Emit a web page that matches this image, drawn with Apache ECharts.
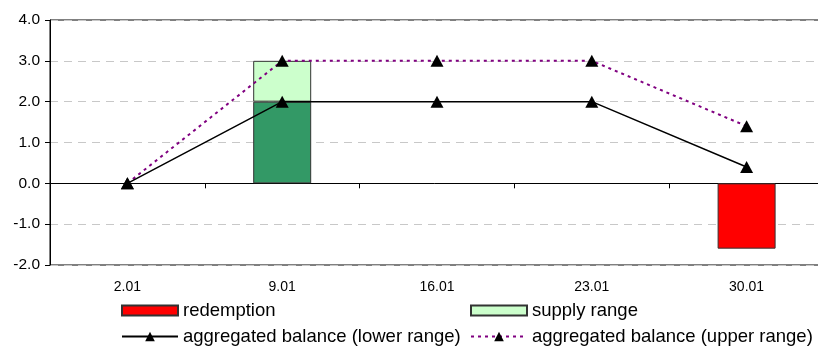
<!DOCTYPE html>
<html>
<head>
<meta charset="utf-8">
<script src="https://cdn.jsdelivr.net/npm/echarts@6/dist/echarts.min.js"></script>
<style>
  html, body { margin: 0; padding: 0; background: #fff; }
  #chart { width: 818px; height: 347px; }
</style>
</head>
<body>
<div id="chart"></div>
<script>
// Weekly dates
const categories = ['2.01', '9.01', '16.01', '23.01', '30.01'];

// Bars (stacked)
const redemption = [null, null, null, null, -1.6];
const supplyBase = [null, 2.0, null, null, null];
const supplyRange = [null, 1.0, null, null, null];

// Aggregated balance lines
const balanceLower = [0.0, 2.0, 2.0, 2.0, 0.4];
const balanceUpper = [0.0, 3.0, 3.0, 3.0, 1.4];

// Value axis range
const yMin = -2, yMax = 4, yStep = 1;

const FONT = 'Liberation Sans, Arial, sans-serif';
const chart = echarts.init(document.getElementById('chart'));

const barBorder = { borderColor: '#333333', borderWidth: 1 };

function legendAt(name, left, top, itemHeight, icon) {
  const lg = {
    data: [name],
    left: left,
    top: top,
    padding: 0,
    itemWidth: 56,
    itemHeight: itemHeight,
    selectedMode: false,
    textStyle: { fontFamily: FONT, fontSize: 18.5, color: '#000' }
  };
  if (icon) lg.icon = icon;
  return lg;
}

chart.setOption({
  animation: false,
  backgroundColor: '#ffffff',
  grid: {
    left: 50, top: 20, width: 774, height: 245,
    outerBoundsMode: 'none',
    containLabel: false,
    show: true, borderColor: '#000', borderWidth: 1, backgroundColor: 'transparent'
  },
  legend: [
    legendAt('redemption', 121, 301, 10, 'rect'),
    legendAt('supply range', 470, 301, 10, 'rect'),
    legendAt('aggregated balance (lower range)', 121, 327, 12),
    legendAt('aggregated balance (upper range)', 470, 327, 12)
  ],
  xAxis: [
    {
      type: 'category',
      data: categories,
      position: 'top',
      boundaryGap: true,
      axisLine: { onZero: true, lineStyle: { color: '#000', width: 1 } },
      axisTick: { show: true, inside: true, length: 5, lineStyle: { color: '#000' } },
      axisLabel: { show: false },
      splitLine: { show: false }
    },
    {
      type: 'category',
      data: categories,
      position: 'bottom',
      boundaryGap: true,
      axisLine: { show: false, onZero: false },
      axisTick: { show: false },
      axisLabel: { margin: 15, fontFamily: FONT, fontSize: 14, color: '#000' },
      splitLine: { show: false }
    }
  ],
  yAxis: {
    type: 'value',
    min: yMin, max: yMax, interval: yStep,
    axisLine: { show: true, lineStyle: { color: '#000', width: 1 } },
    axisTick: { show: true, length: 5, lineStyle: { color: '#000' } },
    axisLabel: {
      margin: 10, fontFamily: FONT, fontSize: 15.5, color: '#000',
      formatter: v => v.toFixed(1)
    },
    splitLine: { show: true, lineStyle: { color: '#c8c8c8', type: [8, 6], width: 1 } }
  },
  series: [
    {
      name: 'supply', type: 'bar', stack: 'vol', xAxisIndex: 0,
      barWidth: 58, data: supplyBase,
      itemStyle: Object.assign({ color: '#339966' }, barBorder)
    },
    {
      name: 'supply range', type: 'bar', stack: 'vol', xAxisIndex: 0,
      barWidth: 58, data: supplyRange,
      itemStyle: Object.assign({ color: '#CCFFCC' }, barBorder)
    },
    {
      name: 'redemption', type: 'bar', stack: 'vol', xAxisIndex: 0,
      barWidth: 58, data: redemption,
      itemStyle: Object.assign({ color: '#FF0000' }, barBorder)
    },
    {
      name: 'aggregated balance (lower range)', type: 'line', xAxisIndex: 0,
      data: balanceLower, z: 5,
      symbol: 'triangle', symbolSize: [13, 12],
      lineStyle: { color: '#000', width: 1.5 },
      itemStyle: { color: '#000' }
    },
    {
      name: 'aggregated balance (upper range)', type: 'line', xAxisIndex: 0,
      data: balanceUpper, z: 4,
      symbol: 'triangle', symbolSize: [13, 12],
      lineStyle: { color: '#800080', width: 2, type: [3, 4] },
      itemStyle: { color: '#000' }
    }
  ]
});
</script>
</body>
</html>
